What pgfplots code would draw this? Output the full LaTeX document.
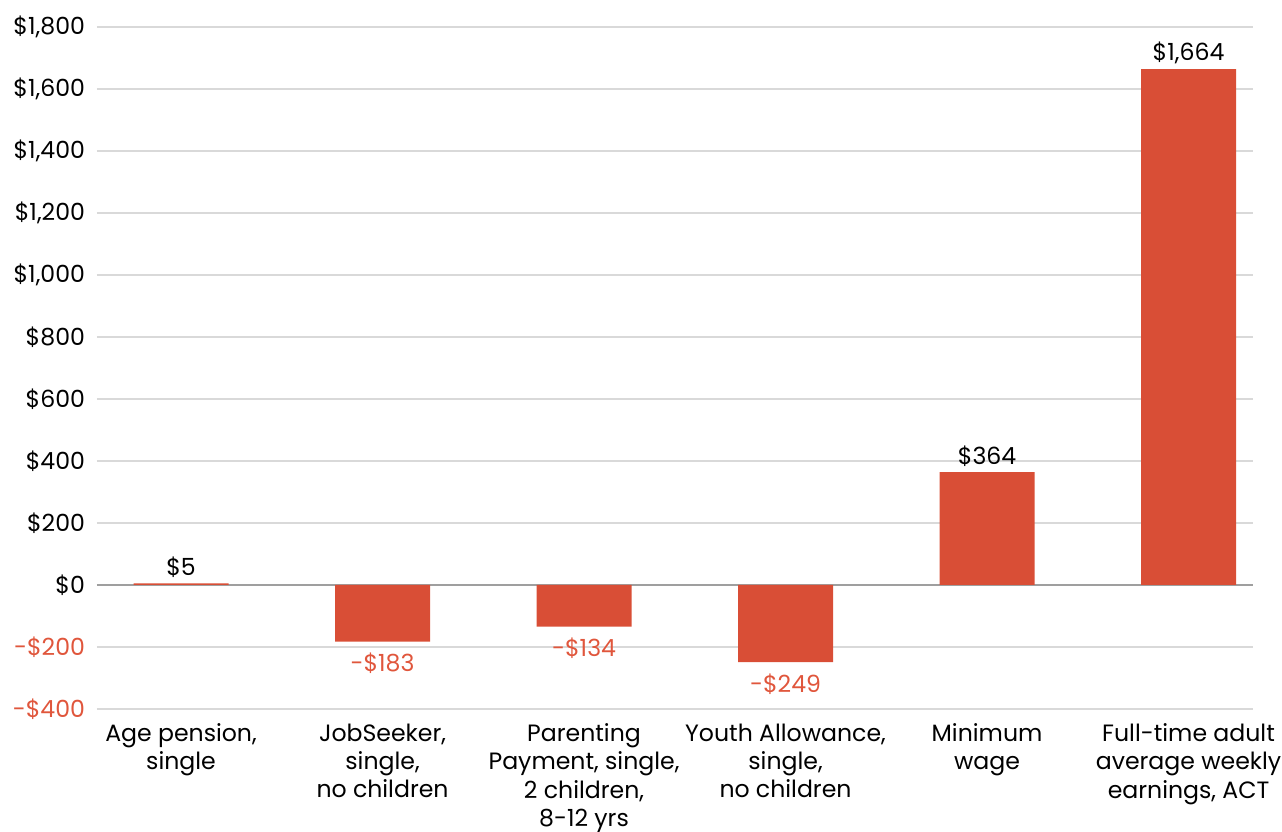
\documentclass[border=0pt]{standalone}
\usepackage{pgfplots}
\pgfplotsset{compat=1.18}
\usepackage{fontspec}
\setmainfont{Poppins}

\definecolor{barred}{RGB}{217,78,54}
\definecolor{negred}{RGB}{224,86,60}
\definecolor{gridgray}{RGB}{217,217,217}

\begin{document}
\begin{tikzpicture}
\begin{axis}[
    width=578pt, height=341pt, scale only axis,
    xmin=-0.417, xmax=5.32, ymin=-400, ymax=1800,
    axis line style={draw=none}, tick style={draw=none},
    ymajorgrids, grid style={gridgray, line width=0.6pt},
    ytick={-400,-200,...,1800},
    yticklabels={\textcolor{negred}{-\$400},\textcolor{negred}{-\$200},\$0,\$200,\$400,\$600,\$800,{\$1,000},{\$1,200},{\$1,400},{\$1,600},{\$1,800}},
    extra y ticks={0}, extra y tick labels={},
    extra y tick style={grid style={gray!75, line width=0.8pt}},
    xtick={0,...,5},
    xticklabels={{Age pension,\\single},{JobSeeker,\\single,\\no children},{Parenting\\Payment, single,\\2 children,\\8-12 yrs},{Youth Allowance,\\single,\\no children},{Minimum\\wage},{Full-time adult\\average weekly\\earnings, ACT}},
    xticklabel style={align=center, font=\fontsize{11.8}{14.2}\selectfont, yshift=0.5pt},
    yticklabel style={font=\fontsize{11.8}{14}\selectfont, xshift=-2.5pt},
    ybar, bar width=47.5pt, bar shift=0pt,
    point meta=explicit symbolic,
    nodes near coords,
    every node near coord/.append style={font=\fontsize{11.8}{14}\selectfont, inner sep=2.5pt},
    clip=false,
]
% positive values, labels above
\addplot[fill=barred, draw=none] coordinates {
    (0,5) [\$5]
    (4,364) [\$364]
    (5,1664) [{\$1,664}]
};
% negative values, labels below in red
\addplot[fill=barred, draw=none,
    every node near coord/.append style={anchor=north, text=negred, yshift=-3pt}] coordinates {
    (1,-183) [-\$183]
    (2,-134) [-\$134]
    (3,-249) [-\$249]
};
\end{axis}
\pgfresetboundingbox
\path ([shift={(-48.5pt,-61.5pt)}]current axis.south west) rectangle ([shift={(14.5pt,13.5pt)}]current axis.north east);
\end{tikzpicture}
\end{document}
